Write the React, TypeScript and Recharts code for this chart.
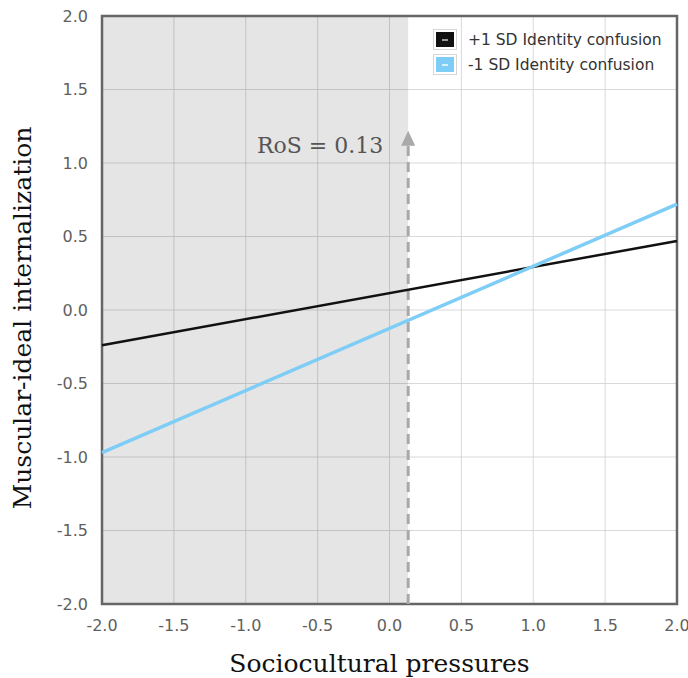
import {
  CartesianGrid,
  Line,
  LineChart,
  ReferenceArea,
  ReferenceLine,
  XAxis,
  YAxis,
} from "recharts";

// Simple slopes: predictor endpoints and fitted outcome values
const xValues = [-2, 2];
const highIdentity = [-0.24, 0.47];
const lowIdentity = [-0.97, 0.72];
const ticks = [-2, -1.5, -1, -0.5, 0, 0.5, 1, 1.5, 2];
const ROS = 0.13;
const ARROW_TOP = 1.22;

const SERIES = [
  { key: "high", label: "+1 SD Identity confusion", color: "#111111", dash: "#9a9a9a" },
  { key: "low", label: "-1 SD Identity confusion", color: "#7ecdf6", dash: "#d8f0fc" },
];

const data = xValues.map((x, i) => ({
  x,
  high: highIdentity[i],
  low: lowIdentity[i],
}));

const SANS = "'DejaVu Sans', Verdana, sans-serif";
const SERIF = "'DejaVu Serif', Georgia, serif";
const TICK_STYLE = { fontSize: 16, fill: "#5f5f5f", fontFamily: SANS };

function RosArrow(props: any) {
  const { x1, y1, y2 } = props;
  const top = Math.min(y1, y2);
  const bottom = Math.max(y1, y2);
  return (
    <g>
      <line
        x1={x1}
        x2={x1}
        y1={bottom}
        y2={top + 12}
        stroke="#a9a9a9"
        strokeWidth={3}
        strokeDasharray="10 6"
      />
      <path
        d={`M ${x1} ${top} L ${x1 - 7} ${top + 15} L ${x1 + 7} ${top + 15} Z`}
        fill="#a9a9a9"
      />
      <text
        x={x1 - 25}
        y={top + 22}
        textAnchor="end"
        fontSize={22}
        fontFamily={SERIF}
        fill="#555"
      >
        RoS = {ROS.toFixed(2)}
      </text>
    </g>
  );
}

export default function App() {
  return (
    <div
      style={{
        position: "absolute",
        left: 0,
        top: 0,
        width: 688,
        height: 678,
        background: "#fff",
      }}
    >
      <LineChart
        width={688}
        height={678}
        data={data}
        margin={{ top: 16, right: 11, left: 0, bottom: 0 }}
      >
        <ReferenceArea
          x1={-2}
          x2={ROS}
          y1={-2}
          y2={2}
          fill="#000"
          fillOpacity={0.1}
          stroke="none"
        />
        <CartesianGrid stroke="#cfcfcf" strokeOpacity={0.8} />
        <XAxis
          type="number"
          dataKey="x"
          domain={[-2, 2]}
          ticks={ticks}
          tickFormatter={(v: number) => v.toFixed(1)}
          tick={TICK_STYLE}
          tickLine={false}
          axisLine={false}
          tickMargin={10}
          height={74}
          label={{
            value: "Sociocultural pressures",
            position: "insideBottom",
            offset: 6,
            dx: -10,
            style: { fontSize: 25, fontFamily: SERIF, fill: "#111" },
          }}
        />
        <YAxis
          type="number"
          domain={[-2, 2]}
          ticks={ticks}
          tickFormatter={(v: number) => v.toFixed(1)}
          tick={TICK_STYLE}
          tickLine={false}
          axisLine={false}
          tickMargin={8}
          width={102}
          label={{
            value: "Muscular-ideal internalization",
            angle: -90,
            position: "insideLeft",
            offset: 22,
            dy: 8,
            style: { fontSize: 25, fontFamily: SERIF, fill: "#111", textAnchor: "middle" },
          }}
        />
        <ReferenceLine
          segment={[
            { x: ROS, y: -2 },
            { x: ROS, y: ARROW_TOP },
          ]}
          shape={RosArrow}
        />
        <Line
          dataKey="high"
          stroke={SERIES[0].color}
          strokeWidth={2.5}
          dot={false}
          isAnimationActive={false}
        />
        <Line
          dataKey="low"
          stroke={SERIES[1].color}
          strokeWidth={3.5}
          dot={false}
          isAnimationActive={false}
        />
        <ReferenceArea
          x1={-2}
          x2={2}
          y1={-2}
          y2={2}
          fill="none"
          stroke="#666"
          strokeWidth={2.5}
        />
      </LineChart>
      <div
        style={{
          position: "absolute",
          left: 433,
          top: 29,
          fontFamily: SANS,
          fontSize: 15.5,
          color: "#333",
        }}
      >
        {SERIES.map((s) => (
          <div
            key={s.key}
            style={{ display: "flex", alignItems: "center", height: 21, marginBottom: 4 }}
          >
            <span
              style={{
                boxSizing: "border-box",
                width: 24,
                height: 21,
                padding: 2,
                border: "1px solid #d6d6d6",
                background: "#fff",
                marginRight: 11,
                display: "inline-flex",
              }}
            >
              <span
                style={{
                  flex: 1,
                  background: s.color,
                  display: "inline-flex",
                  alignItems: "center",
                  justifyContent: "center",
                }}
              >
                <span style={{ width: 6, height: 2, background: s.dash }} />
              </span>
            </span>
            {s.label}
          </div>
        ))}
      </div>
    </div>
  );
}
